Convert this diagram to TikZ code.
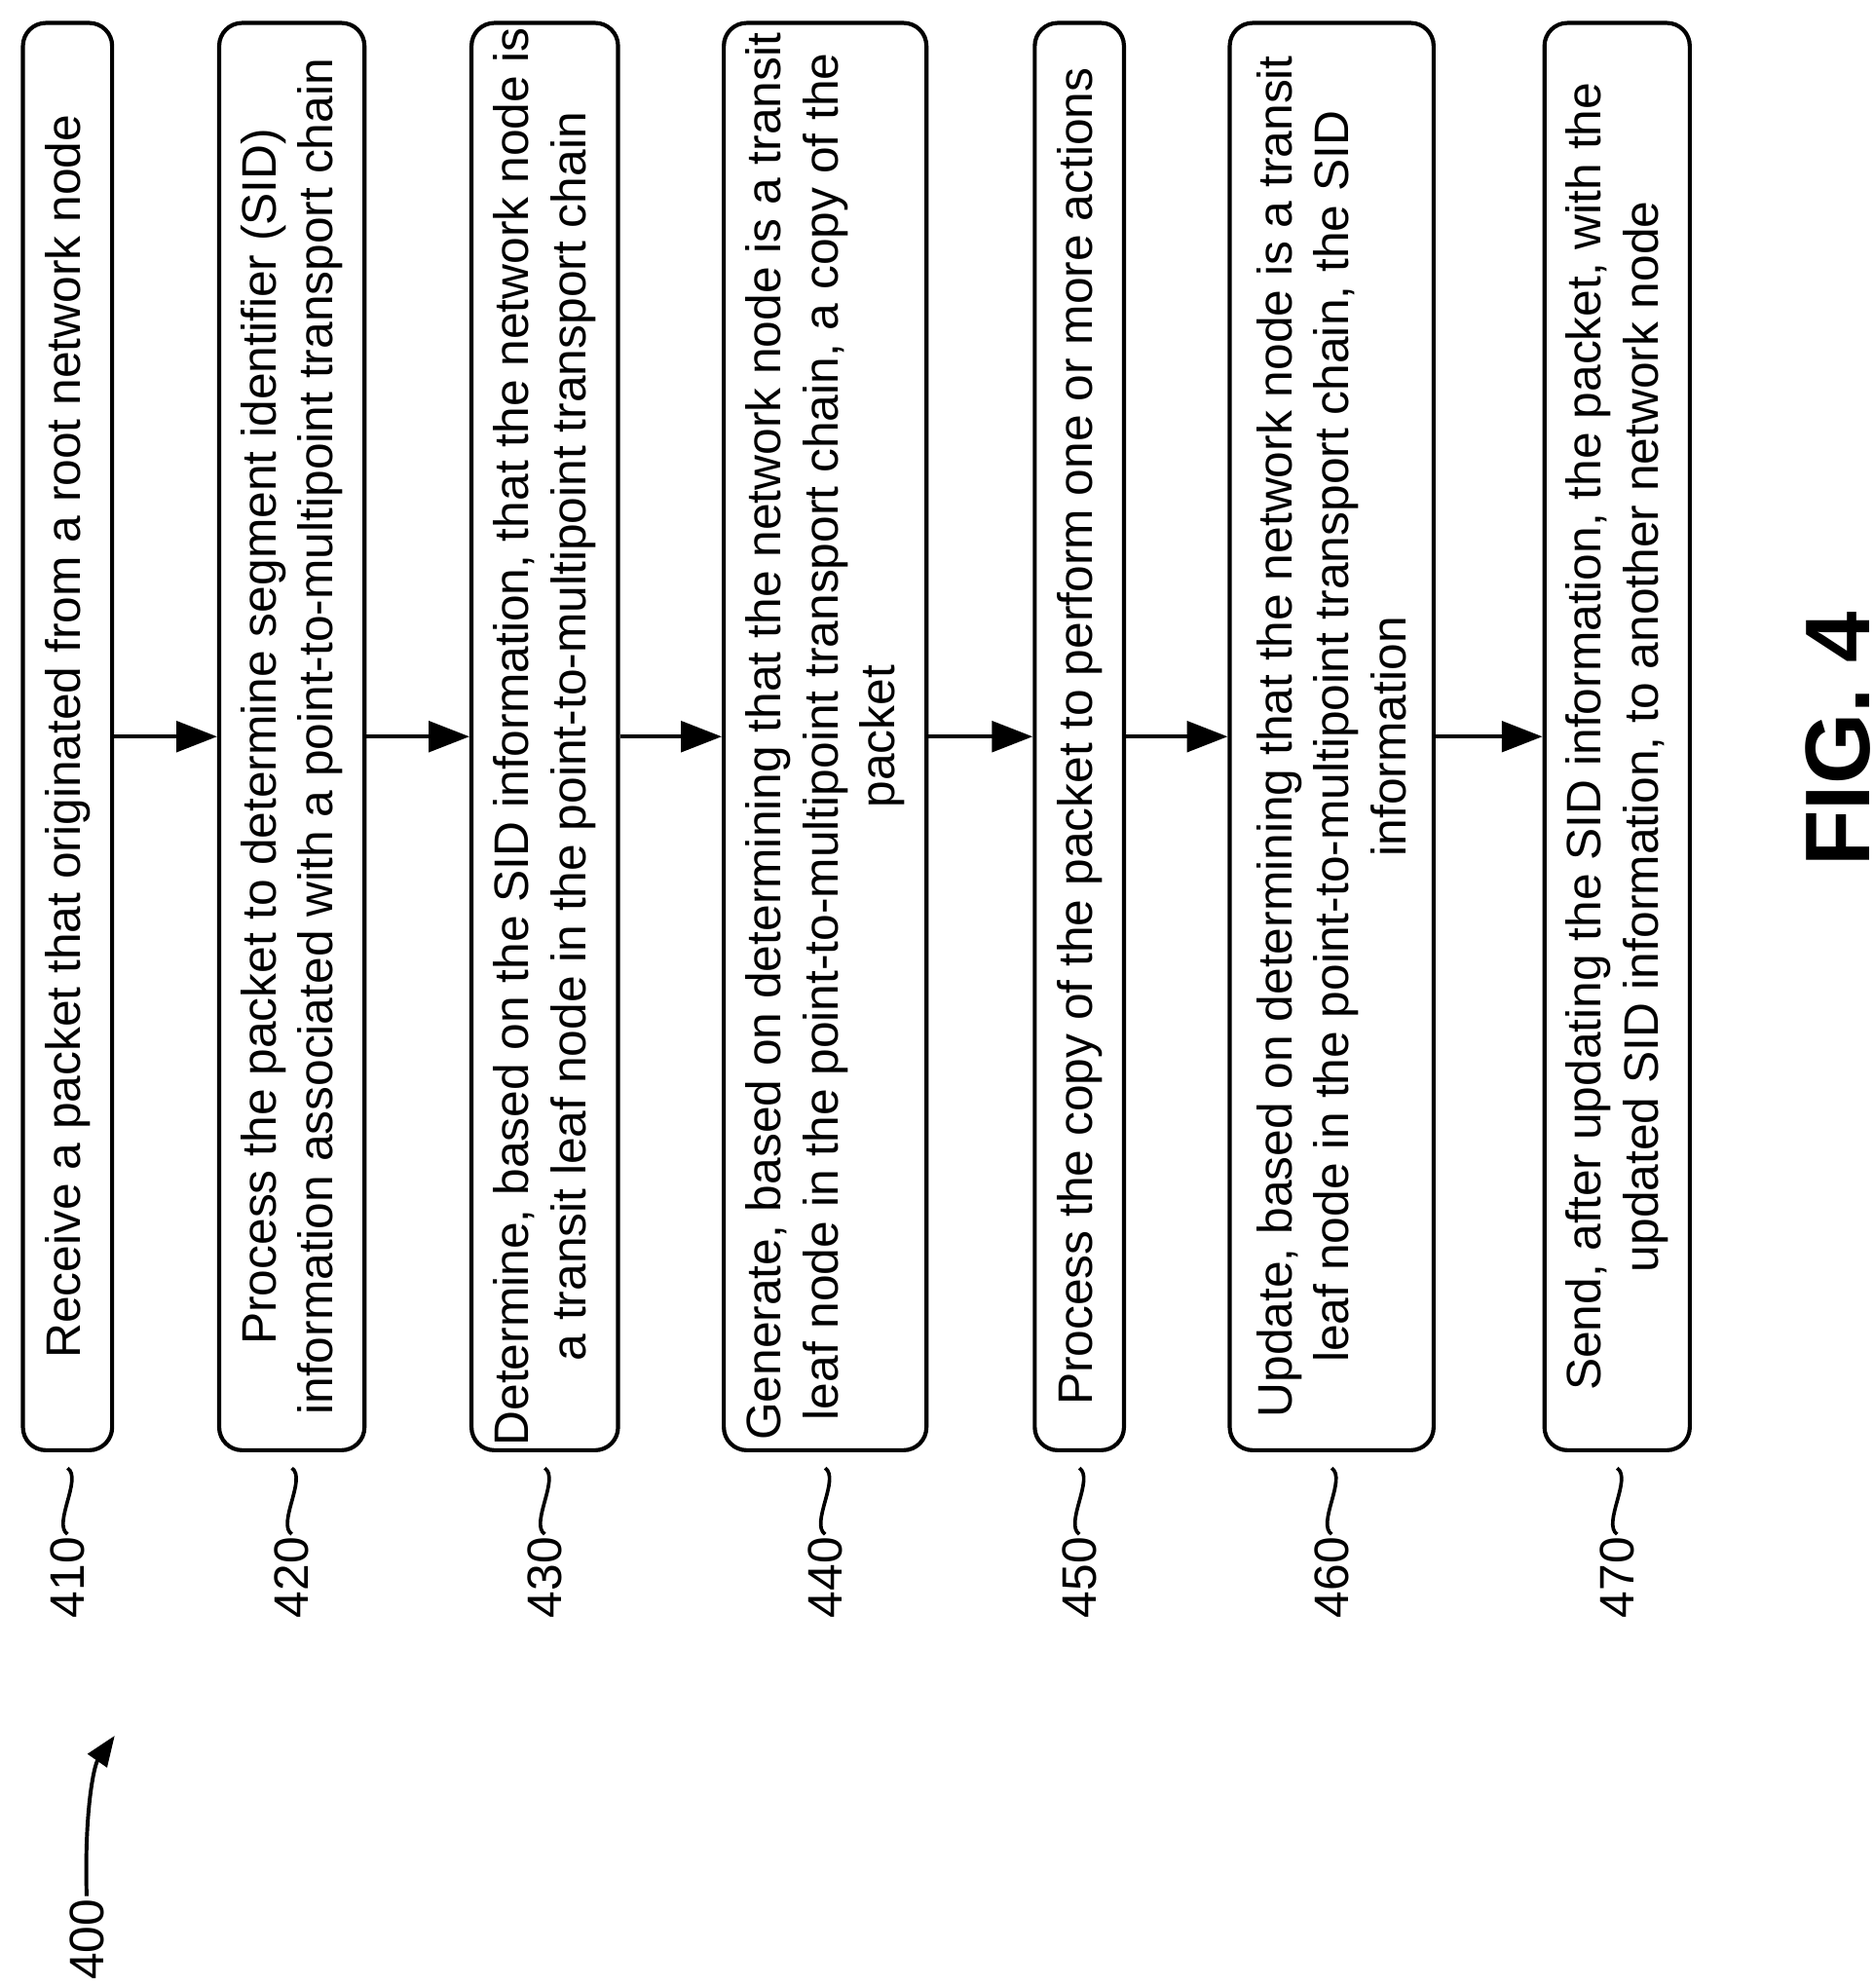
\documentclass[tikz,border=0pt]{standalone}
\usepackage{fontspec}
\setmainfont{Liberation Sans}
\usetikzlibrary{arrows.meta}
\tikzset{
  stage/.style={draw,line width=1.6pt,rounded corners=9pt,rotate=90,minimum width=560pt,
    inner sep=0pt,align=center,font=\fontsize{19}{22.5}\selectfont},
  tag/.style={rotate=90,font=\fontsize{19}{22}\selectfont,inner sep=1pt},
  flow/.style={line width=1.6pt,-{Triangle[length=16pt,width=12pt]}},
  squig/.style={line width=1.4pt},
}
\begin{document}
\begin{tikzpicture}[x=0.5pt,y=-0.5pt,line join=round]
\useasboundingbox (0,0) rectangle (1470,1560);
%%
\node (box_410) at (53,578) [stage,minimum height=35pt] {Receive a packet that originated from a root network node};
  \node (box_420) at (229,578) [stage,minimum height=57pt] {Process the packet to determine segment identifier (SID)\\information associated with a point-to-multipoint transport chain};
  \node (box_430) at (427.5,578) [stage,minimum height=57.5pt] {Determine, based on the SID information, that the network node is\\a transit leaf node in the point-to-multipoint transport chain};
  \node (box_440) at (647.5,578) [stage,minimum height=79.5pt] {Generate, based on determining that the network node is a transit\\leaf node in the point-to-multipoint transport chain, a copy of the\\packet};
  \node (box_450) at (847,578) [stage,minimum height=35pt] {Process the copy of the packet to perform one or more actions};
  \node (box_460) at (1045,578) [stage,minimum height=80pt] {Update, based on determining that the network node is a transit\\leaf node in the point-to-multipoint transport chain, the SID\\information};
  \node (box_470) at (1269,578) [stage,minimum height=57pt] {Send, after updating the SID information, the packet, with the\\updated SID information, to another network node};
  \draw [flow] (box_410.south) -- (box_420.north);
  \draw [flow] (box_420.south) -- (box_430.north);
  \draw [flow] (box_430.south) -- (box_440.north);
  \draw [flow] (box_440.south) -- (box_450.north);
  \draw [flow] (box_450.south) -- (box_460.north);
  \draw [flow] (box_460.south) -- (box_470.north);
%
\foreach \n/\x in {410/53,420/229,430/427.5,440/647.5,450/847,460/1045,470/1269}{
  \node (tag_\n) at (\x,1238) [tag] {\n};
  \draw [squig] (tag_\n.east) .. controls +(-12,-8) and +(12,8) .. (\x,1152);
}
%
\node (tag_400) at (68,1522) [tag] {400};
  \coordinate (tip_400) at (90,1362);
  \draw [line width=1.5pt,-{Triangle[length=12pt,width=9pt]}] (tag_400.east) .. controls (66,1420) and (74,1385) .. (tip_400);
  \node (fig) at (1442,580) [rotate=90,font=\bfseries\fontsize{36}{40}\selectfont] {FIG. 4};
%
\end{tikzpicture}
\end{document}
